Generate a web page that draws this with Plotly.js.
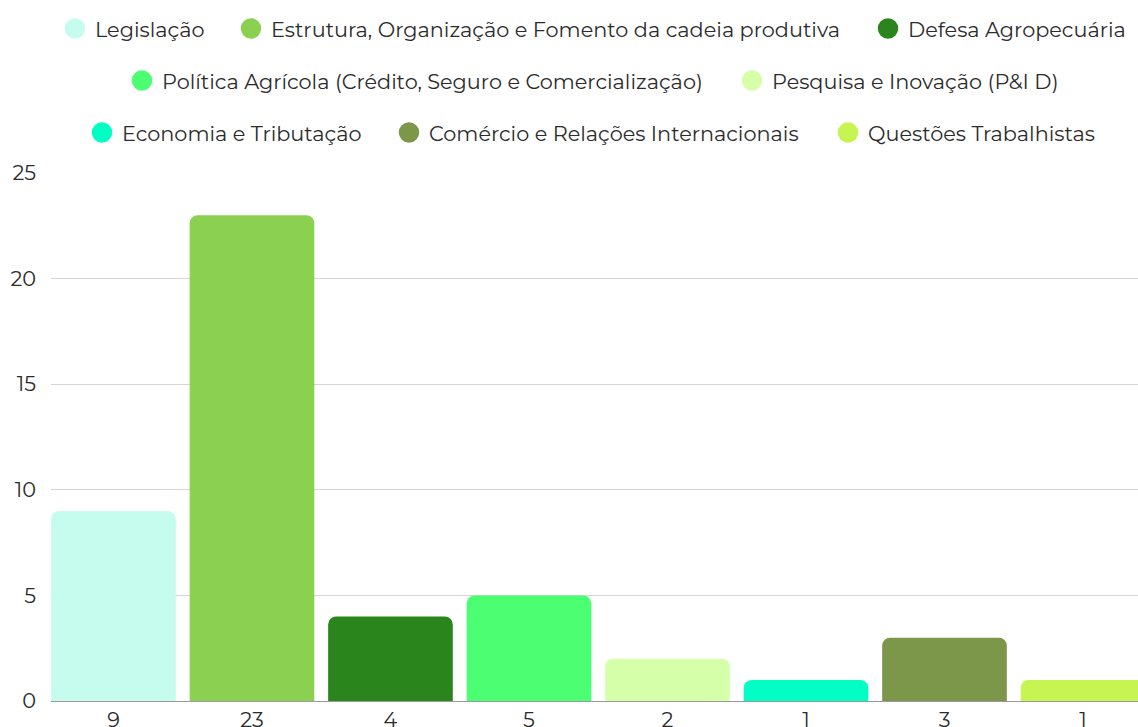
<!DOCTYPE html>
<html>
<head>
<meta charset="utf-8">
<script src="https://cdn.plot.ly/plotly-3.0.1.min.js"></script>
<style>
html,body{margin:0;padding:0;background:#fff;overflow:hidden;}
#chart{width:1138px;height:727px;}
</style>
</head>
<body>
<div id="chart"></div>
<script>
// ---- data ----
const categories = [
  "Legislação",
  "Estrutura, Organização e Fomento da cadeia produtiva",
  "Defesa Agropecuária",
  "Política Agrícola (Crédito, Seguro e Comercialização)",
  "Pesquisa e Inovação (P&I D)",
  "Economia e Tributação",
  "Comércio e Relações Internacionais",
  "Questões Trabalhistas"
];
const values = [9, 23, 4, 5, 2, 1, 3, 1];
const tickLabels = values.map(String);

// ---- styles ----
const colors = ["#c6fcee", "#8bd050", "#29851c", "#4cff72", "#d6ffaa", "#00ffc4", "#7c974a", "#c6f552"];
// legend circle centre positions (px) in the container
const legendPos = [[75,29],[251,29],[888,29],[142,81],[752,81],[102,133],[409,133],[848,133]];

const FONT = "Montserrat, 'DejaVu Sans', sans-serif";
const TXT = "#2b2b2b";
const FS = 20.8;

const traces = [];
categories.forEach((c, i) => {
  traces.push({
    type: "bar",
    x: [c],
    y: [values[i]],
    marker: {color: colors[i], cornerradius: 8},
    showlegend: false,
    hoverinfo: "skip"
  });
});
categories.forEach((c, i) => {
  traces.push({
    type: "scatter",
    mode: "markers",
    x: [null],
    y: [null],
    name: c,
    legend: i === 0 ? "legend" : "legend" + (i + 1),
    marker: {size: 16, color: colors[i], line: {width: 4.5, color: colors[i]}},
    hoverinfo: "skip"
  });
});

const layout = {
  width: 1138,
  height: 727,
  margin: {l: 51, r: 0, t: 173, b: 26},
  paper_bgcolor: "#fff",
  plot_bgcolor: "#fff",
  font: {family: FONT, size: FS, color: TXT},
  barmode: "overlay",
  bargap: 0.1,
  xaxis: {
    type: "category",
    categoryorder: "array",
    categoryarray: categories,
    range: [-0.451, 7.397],
    tickvals: categories,
    ticktext: tickLabels,
    showgrid: false,
    zeroline: false,
    showline: true,
    linecolor: "#9a9a9a",
    linewidth: 1,
    ticks: "",
    tickfont: {family: FONT, size: FS, color: TXT},
    fixedrange: true
  },
  yaxis: {
    range: [0, 25],
    tickvals: [0, 5, 10, 15, 20, 25],
    showgrid: true,
    gridcolor: "#d4d4d4",
    gridwidth: 1,
    zeroline: false,
    showline: false,
    ticks: "",
    ticklabelstandoff: 14,
    tickfont: {family: FONT, size: FS, color: TXT},
    fixedrange: true
  },
  showlegend: true
};

legendPos.forEach((p, i) => {
  const key = i === 0 ? "legend" : "legend" + (i + 1);
  layout[key] = {
    xref: "container", yref: "container",
    x: (p[0] - 20) / 1138,
    y: 1 - p[1] / 727,
    xanchor: "left", yanchor: "middle",
    orientation: "h",
    bgcolor: "rgba(0,0,0,0)",
    borderwidth: 0,
    font: {family: FONT, size: FS, color: TXT}
  };
});

Plotly.newPlot("chart", traces, layout, {displayModeBar: false, staticPlot: true});
</script>
</body>
</html>
